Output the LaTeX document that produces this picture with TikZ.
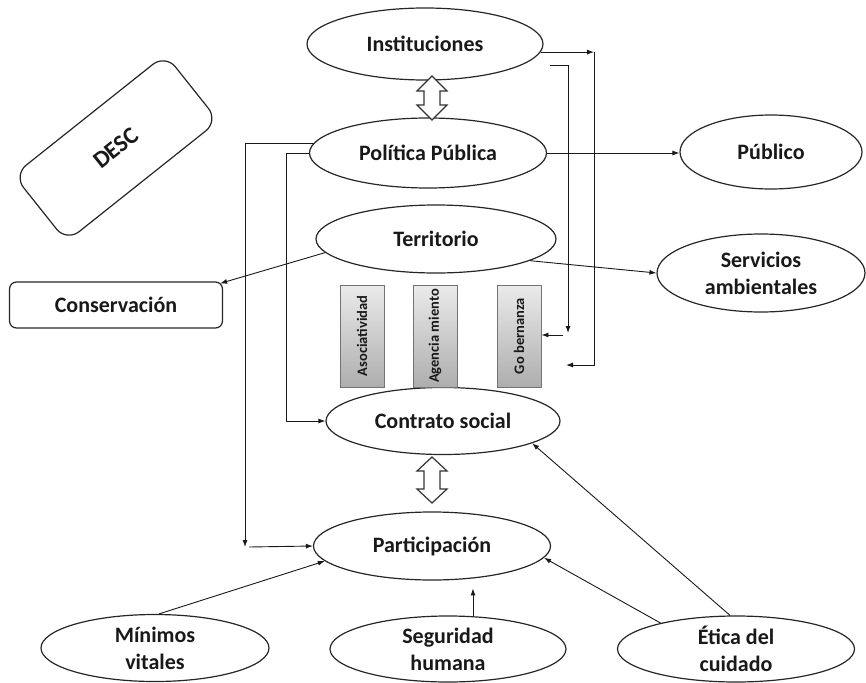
\documentclass[tikz,border=0pt]{standalone}
\usepackage{fontspec}
\setmainfont{Carlito}
\usetikzlibrary{arrows.meta,shapes.geometric,calc}
\begin{document}
\begin{tikzpicture}[x=1pt,y=-1pt,
  ell/.style={ellipse,draw=black!85,line width=1.2pt,fill=white,inner sep=0pt,
    font=\bfseries\fontsize{22}{27}\selectfont,align=center,text=black!90},
  rbox/.style={rectangle,rounded corners=#1,draw=black!85,line width=1.2pt,fill=white,inner sep=0pt,
    font=\bfseries\fontsize{22}{24}\selectfont,text=black!90},
  vbox/.style={rectangle,draw=black!55,line width=0.9pt,top color=black!8,bottom color=black!32,
    inner sep=0pt,minimum width=102pt,minimum height=44pt,rotate=90,
    font=\bfseries\fontsize{14.5}{16}\selectfont,text=black!90},
  arr/.style={-{Latex[length=7pt,width=5pt]},line width=0.9pt,draw=black!90},
  hollow/.style={draw=black!80,line width=1.2pt,fill=white,line join=miter}
]
\useasboundingbox (0,0) rectangle (866,682);

% main nodes
\node[ell,minimum width=236pt,minimum height=72pt] (inst) at (425,44) {Instituciones};
\node[ell,minimum width=237pt,minimum height=70pt] (pol) at (428,153) {Política Pública};
\node[ell,minimum width=182pt,minimum height=74pt] (pub) at (771,152) {Público};
\node[ell,minimum width=240pt,minimum height=68pt] (ter) at (436,239) {Territorio};
\node[ell,minimum width=208pt,minimum height=78pt] (serv) at (761,273) {Servicios\\ambientales};
\node[ell,minimum width=234pt,minimum height=67pt] (cont) at (443,421) {Contrato social};
\node[ell,minimum width=237pt,minimum height=68pt] (part) at (432,546) {Participación};
\node[ell,minimum width=228pt,minimum height=67pt] (min) at (155,648) {Mínimos\\vitales};
\node[ell,minimum width=236pt,minimum height=66pt] (seg) at (448,649) {Seguridad\\humana};
\node[ell,minimum width=237pt,minimum height=66pt] (eti) at (736,649) {Ética del\\cuidado};

\node[rbox=7pt,minimum width=213pt,minimum height=46pt] (cons) at (116,305) {Conservación};
\node[rbox=16pt,minimum width=194pt,minimum height=85pt,rotate=38.5,
  font=\bfseries\fontsize{24}{26}\selectfont] (desc) at (116,148) {DESC};

% vertical boxes
\node[vbox] (aso) at (362,336) {Asociatividad};
\node[vbox] (age) at (435,336) {Agencia miento};
\node[vbox] (gob) at (519,336) {Go bernanza};

% hollow double arrows
\draw[hollow] (432,76) -- (447,91) -- (440,91) -- (440,105) -- (447,105) -- (432,120)
  -- (417,105) -- (424,105) -- (424,91) -- (417,91) -- cycle;
\draw[hollow] (432,457) -- (447,471) -- (440,471) -- (440,489) -- (447,489) -- (432,503)
  -- (417,489) -- (424,489) -- (424,471) -- (417,471) -- cycle;

% right-hand connectors
\coordinate (a1) at (594,52);
\coordinate (a2) at (566,365);
\draw[arr] (inst.-4) -- (inst.-4 -| a1);
\draw[arr] (inst.-4 -| a1) -- (a1 |- a2) -- (a2);

\coordinate (b0) at (550,65);
\coordinate (b1) at (568,333);
\coordinate (b2) at (563,335);
\draw[arr] (b0) -- (b0 -| b1) -- (b1);
\draw[arr] (b2) -- (b2 -| gob.south);

\draw[arr] (pol.east) -- (pol.east -| pub.west);

% left-hand connectors
\coordinate (c1) at (245,547);
\coordinate (c2) at (249,547);
\draw[arr] (pol.175) -- (pol.175 -| c1) -- (c1);
\draw[arr] (c2) -- (part.west);
\draw[arr] (pol.west) -- ++(-22,0) |- (cont.west);

% territory connectors
\draw[arr] (ter.187) -- ($(cons.north east)+(-3,2)$);
\draw[arr] (ter.-13) -- (serv.west);

% bottom connectors
\draw[arr] ($(min.north)+(4,0)$) -- (part.188);
\coordinate (s0) at ($(seg.north)+(25,1)$);
\draw[arr] (s0) -- ++(0,-28);
\draw[arr] (eti.161) -- (part.-6);
\draw[arr] (eti.100) -- (cont.-14);
\end{tikzpicture}
\end{document}
